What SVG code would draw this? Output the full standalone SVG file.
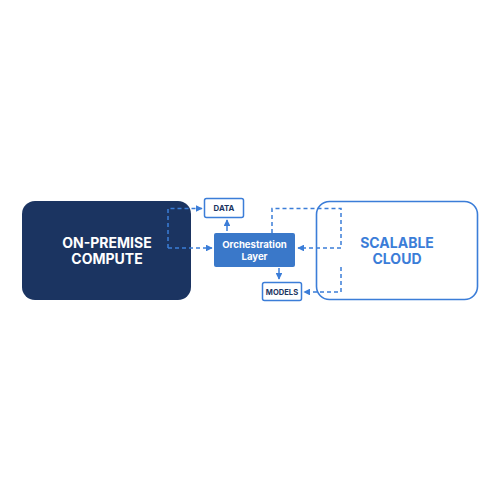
<svg xmlns="http://www.w3.org/2000/svg" width="500" height="500" viewBox="0 0 500 500">
<style>
.t{font-family:Inter,"Liberation Sans",sans-serif;font-weight:700;text-anchor:middle}
.dash{fill:none;stroke:#3b7dd8;stroke-width:1.5;stroke-dasharray:4 3}
.solid{fill:none;stroke:#3b7dd8;stroke-width:1.5}
.small{fill:#fff;stroke:#3b7dd8;stroke-width:1.5}
</style>
<defs>
<marker id="ah" viewBox="0 0 10 10" refX="9" refY="5" markerWidth="4.5" markerHeight="4.5" orient="auto">
<path d="M0 0 L10 5 L0 10 Z" fill="#3b7dd8"/>
</marker>
</defs>
<rect width="500" height="500" fill="#fff"/>
<g id="onprem">
<rect x="22" y="201" width="169" height="99" rx="13" fill="#1b3461"/>
<text class="t" x="107" y="248" font-size="14" fill="#fff">ON-PREMISE</text>
<text class="t" x="107" y="264" font-size="14" fill="#fff">COMPUTE</text>
</g>
<g id="cloud">
<rect x="316.5" y="201.5" width="161" height="98" rx="13" fill="#fff" stroke="#3b7dd8" stroke-width="1.6"/>
<text class="t" x="397" y="248" font-size="14" fill="#3b7dd8">SCALABLE</text>
<text class="t" x="397" y="264" font-size="14" fill="#3b7dd8">CLOUD</text>
</g>
<g id="connectors">
<path class="dash" d="M168 248 V208.5 H202" marker-end="url(#ah)"/>
<path class="dash" d="M168 248 H212" marker-end="url(#ah)"/>
<path class="dash" d="M272 233 V208.5 H341 V248 H298" marker-end="url(#ah)"/>
<path class="dash" d="M341 267 V292 H304" marker-end="url(#ah)"/>
<path class="solid" d="M227 231 V220" marker-end="url(#ah)"/>
<path class="solid" d="M279 268 V279" marker-end="url(#ah)"/>
</g>
<g id="orchestration">
<rect x="214" y="233" width="81" height="34" rx="2" fill="#3a78c9"/>
<text class="t" x="254.5" y="247.5" font-size="9.6" fill="#fff">Orchestration</text>
<text class="t" x="254.5" y="260" font-size="9.6" fill="#fff">Layer</text>
</g>
<g id="data">
<rect class="small" x="204.5" y="198.5" width="39" height="19" rx="2"/>
<text class="t" x="224" y="211" font-size="7.8" fill="#1b3461">DATA</text>
</g>
<g id="models">
<rect class="small" x="262.5" y="282.5" width="39" height="18" rx="2"/>
<text class="t" x="282" y="294.5" font-size="7.6" fill="#1b3461">MODELS</text>
</g>
</svg>
